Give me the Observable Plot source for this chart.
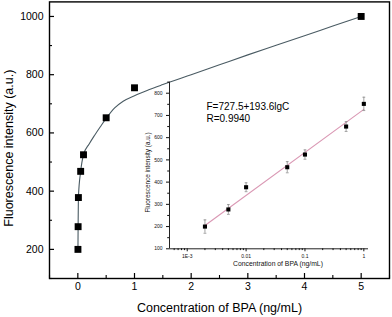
<!DOCTYPE html>
<html><head><meta charset="utf-8">
<script src="https://cdn.jsdelivr.net/npm/d3@7"></script>
<script src="https://cdn.jsdelivr.net/npm/@observablehq/plot@0.6"></script>
<style>
body{margin:0;background:#fff;}
#wrap{position:relative;width:392px;height:317px;}
#wrap svg{position:absolute;left:0;top:0;}
</style></head><body><div id="wrap"></div>
<script>
// ---- main chart data ----
const concentrations = [0.002, 0.005, 0.01, 0.05, 0.1, 0.5, 1, 5];
const intensities = [200, 278, 378, 468, 525, 652, 755, 1000];
// fitted curve
const curveConc = [0.002, 0.005, 0.01, 0.05, 0.1, 0.2, 0.3, 0.4, 0.5, 0.65, 0.8, 1, 1.25, 1.5, 2, 2.5, 3, 3.5, 4, 4.5, 5];
const curveIntensity = [200, 278, 378, 468, 525, 562, 593, 622, 650, 686, 709, 728, 748, 766, 800, 834, 868, 901, 934, 967, 1000];
const xMajor = [0, 1, 2, 3, 4, 5];
const xMinor = [-0.5, 0.5, 1.5, 2.5, 3.5, 4.5, 5.5];
const yMajor = [200, 400, 600, 800, 1000];
const yMinor = [100, 300, 500, 700, 900];
const xDomain = [-0.5, 5.5];
const yDomain = [100, 1050];
const xTitle = "Concentration of BPA (ng/mL)";
const yTitle = "Fluorescence intensity (a.u.)";

// ---- inset data ----
const insetConc = [0.002, 0.005, 0.01, 0.05, 0.1, 0.5, 1];
const insetF = [200, 277, 377, 467, 524, 650, 752];
const insetErr = [30, 22, 20, 25, 21, 22, 30];
const fitConc = [0.002, 1];
const fitF = [205, 727.5];
const insetXDomain = [5e-4, 1.2];
const insetYDomain = [100, 850];
const insetXMajor = [0.001, 0.01, 0.1, 1];
const insetXLabels = ["1E-3", "0.01", "0.1", "1"];
const insetXMinor = [6e-4, 7e-4, 8e-4, 9e-4,
  2e-3, 3e-3, 4e-3, 5e-3, 6e-3, 7e-3, 8e-3, 9e-3,
  0.02, 0.03, 0.04, 0.05, 0.06, 0.07, 0.08, 0.09,
  0.2, 0.3, 0.4, 0.5, 0.6, 0.7, 0.8, 0.9];
const insetYMajor = [100, 200, 300, 400, 500, 600, 700, 800];
const insetYMinor = [150, 250, 350, 450, 550, 650, 750, 850];
const eqLines = ["F=727.5+193.6lgC", "R=0.9940"];

const points = concentrations.map((c, i) => ({c, v: intensities[i]}));
const curve = curveConc.map((c, i) => ({c, v: curveIntensity[i]}));
const inset = insetConc.map((c, i) => ({c, f: insetF[i], e: insetErr[i]}));
const fit = fitConc.map((c, i) => ({c, f: fitF[i]}));

const font = "'Liberation Sans', Arial, sans-serif";

const main = Plot.plot({
  width: 392, height: 317,
  marginLeft: 49, marginRight: 3, marginTop: 1.4, marginBottom: 39,
  style: {fontFamily: font, fontSize: "10.5px", color: "#000", background: "transparent"},
  x: {domain: xDomain},
  y: {domain: yDomain},
  marks: [
    Plot.axisX({ticks: xMajor, tickSize: -5, tickPadding: 8.7, tickFormat: d => String(d), label: null, strokeWidth: 1.2}),
    Plot.axisX({ticks: xMinor, tickSize: -3, text: null, label: null, strokeWidth: 1.1}),
    Plot.axisY({ticks: yMajor, tickSize: -5, tickPadding: 11, tickFormat: d => String(d), label: null, strokeWidth: 1.2}),
    Plot.axisY({ticks: yMinor, tickSize: -3, text: null, label: null, strokeWidth: 1.1}),
    Plot.frame({stroke: "#000", strokeWidth: 1.4}),
    Plot.line(curve, {x: "c", y: "v", curve: "monotone-x", stroke: "#4a5b63", strokeWidth: 1.1}),
    Plot.dot(points, {x: "c", y: "v", symbol: "square", r: 3.9, fill: "#000"}),
    Plot.text([xTitle], {frameAnchor: "bottom", dy: 29, lineAnchor: "middle", textAnchor: "middle", fontSize: 12.5}),
    Plot.text([yTitle], {frameAnchor: "left", rotate: -90, dx: -41, dy: 8, fontSize: 12.5, lineAnchor: "middle", textAnchor: "middle"})
  ]
});

const cap = {draw(ctx, size) { const w = Math.sqrt(size / Math.PI); ctx.moveTo(-w, 0); ctx.lineTo(w, 0); }};

const insetPlot = Plot.plot({
  width: 392, height: 317,
  marginLeft: 169, marginRight: 24, marginTop: 81.6, marginBottom: 68.7,
  style: {fontFamily: font, fontSize: "5px", color: "#111", background: "transparent"},
  x: {type: "log", domain: insetXDomain},
  y: {domain: insetYDomain},
  marks: [
    Plot.ruleX([insetXDomain[0]], {stroke: "#222", strokeWidth: 1}),
    Plot.ruleY([insetYDomain[0]], {stroke: "#222", strokeWidth: 1}),
    Plot.axisX({ticks: insetXMajor, tickSize: 3, tickPadding: 3, tickFormat: d => insetXLabels[insetXMajor.indexOf(d)], label: null, fontSize: 5}),
    Plot.axisX({ticks: insetXMinor, tickSize: 1.8, text: null, label: null}),
    Plot.axisY({ticks: insetYMajor, tickSize: 3, tickPadding: 4, label: null, fontSize: 5}),
    Plot.axisY({ticks: insetYMinor, tickSize: 1.8, text: null, label: null}),
    Plot.line(fit, {x: "c", y: "f", stroke: "#da98b4", strokeWidth: 1.1}),
    Plot.ruleX(inset, {x: "c", y1: d => d.f - d.e, y2: d => d.f + d.e, stroke: "#8a8a8a", strokeWidth: 0.8}),
    Plot.dot(inset, {x: "c", y: d => d.f - d.e, symbol: cap, r: 1.4, stroke: "#8a8a8a", strokeWidth: 0.8}),
    Plot.dot(inset, {x: "c", y: d => d.f + d.e, symbol: cap, r: 1.4, stroke: "#8a8a8a", strokeWidth: 0.8}),
    Plot.dot(inset, {x: "c", y: "f", symbol: "square", r: 2.3, fill: "#000"}),
    Plot.text([eqLines.join("\n")], {frameAnchor: "top-left", dx: 37, dy: 20, textAnchor: "start", lineAnchor: "top", fontSize: 10, lineHeight: 1.15, fill: "#000"}),
    Plot.text([xTitle], {frameAnchor: "bottom", dy: 15.2, dx: 9, lineAnchor: "middle", textAnchor: "middle", fontSize: 6.8}),
    Plot.text([yTitle], {frameAnchor: "left", rotate: -90, dx: -21.5, dy: 7, lineAnchor: "middle", textAnchor: "middle", fontSize: 6.4})
  ]
});

const wrap = document.getElementById("wrap");
wrap.appendChild(main);
wrap.appendChild(insetPlot);
</script></body></html>
